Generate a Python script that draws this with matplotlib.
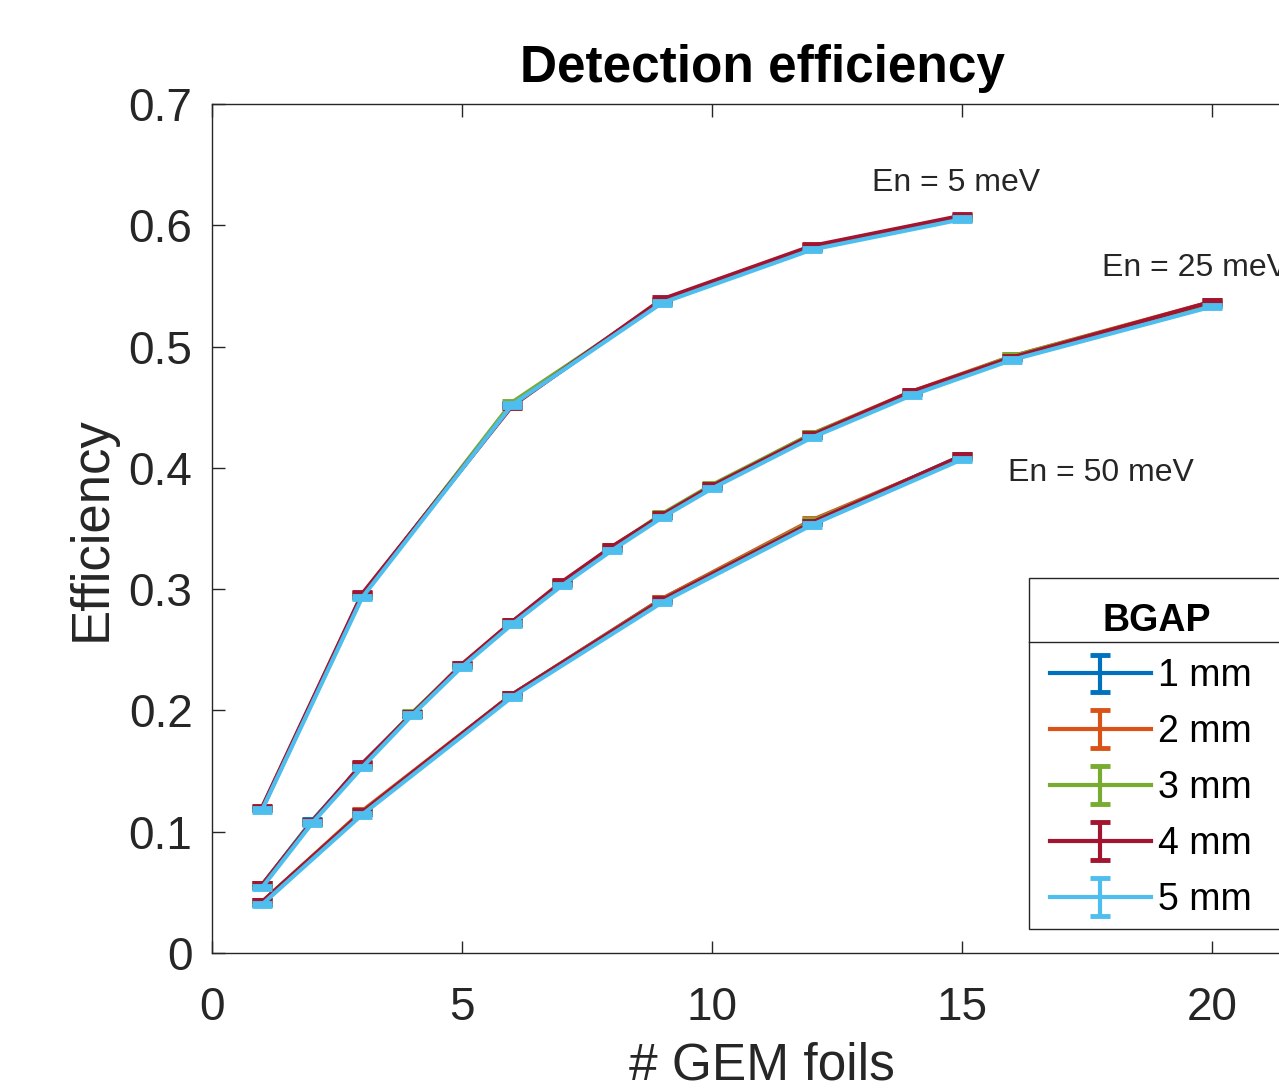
"""Detection efficiency vs number of GEM foils for several BGAP values."""

import matplotlib.pyplot as plt
from matplotlib.lines import Line2D
from matplotlib.patches import Rectangle

# ---- data ----
bgap_labels = ["1 mm", "2 mm", "3 mm", "4 mm", "5 mm"]
colors = ["#0072BD", "#D95319", "#77AC30", "#A2142F", "#4DBEEE"]

foils_5mev = [1, 3, 6, 9, 12, 15]
eff_5mev = [
    [0.119, 0.295, 0.452, 0.537, 0.582, 0.606],
    [0.119, 0.295, 0.452, 0.538, 0.582, 0.607],
    [0.119, 0.294, 0.454, 0.537, 0.581, 0.606],
    [0.120, 0.296, 0.451, 0.539, 0.583, 0.608],
    [0.118, 0.293, 0.452, 0.536, 0.580, 0.605],
]

foils_25mev = [1, 2, 3, 4, 5, 6, 7, 8, 9, 10, 12, 14, 16, 20]
eff_25mev = [
    [0.056, 0.109, 0.155, 0.197, 0.237, 0.272, 0.305, 0.334, 0.361, 0.385, 0.427, 0.462, 0.491, 0.535],
    [0.056, 0.108, 0.155, 0.197, 0.238, 0.273, 0.305, 0.335, 0.361, 0.385, 0.428, 0.463, 0.492, 0.537],
    [0.055, 0.108, 0.154, 0.198, 0.237, 0.272, 0.305, 0.334, 0.362, 0.386, 0.428, 0.462, 0.492, 0.536],
    [0.056, 0.108, 0.156, 0.197, 0.238, 0.273, 0.306, 0.335, 0.361, 0.385, 0.427, 0.463, 0.491, 0.537],
    [0.054, 0.107, 0.153, 0.196, 0.236, 0.271, 0.303, 0.332, 0.359, 0.383, 0.425, 0.460, 0.489, 0.533],
]

foils_50mev = [1, 3, 6, 9, 12, 15]
eff_50mev = [
    [0.042, 0.116, 0.213, 0.292, 0.355, 0.410],
    [0.042, 0.117, 0.213, 0.292, 0.357, 0.409],
    [0.041, 0.116, 0.212, 0.291, 0.356, 0.409],
    [0.042, 0.116, 0.213, 0.291, 0.355, 0.410],
    [0.040, 0.114, 0.211, 0.289, 0.353, 0.407],
]

eff_err = 0.0015

energy_labels = ["En = 5 meV", "En = 25 meV", "En = 50 meV"]
label_pos = [(13.2, 0.635), (17.8, 0.565), (15.92, 0.396)]

x_ticks = [0, 5, 10, 15, 20]
y_ticks = [0, 0.1, 0.2, 0.3, 0.4, 0.5, 0.6, 0.7]
y_tick_labels = ["0", "0.1", "0.2", "0.3", "0.4", "0.5", "0.6", "0.7"]

INK = "#262626"
plt.rcParams["font.family"] = ["Liberation Sans", "DejaVu Sans"]

fig = plt.figure(figsize=(12.79, 10.88), dpi=100)
ax = fig.add_axes([0.1658, 0.1241, 0.860, 0.7803])

handles = []
for i, (label, color) in enumerate(zip(bgap_labels, colors)):
    h = None
    for foils, eff in ((foils_5mev, eff_5mev), (foils_25mev, eff_25mev), (foils_50mev, eff_50mev)):
        h = ax.errorbar(
            foils, eff[i], yerr=eff_err,
            color=color, linewidth=3.0, elinewidth=3.0,
            capsize=7, capthick=3.5, zorder=2 + i,
        )
    handles.append(h)

for text, (x, y) in zip(energy_labels, label_pos):
    ax.text(x, y, text, fontsize=23, color=INK, va="center", ha="left", clip_on=False)

ax.set_xlim(0, 22)
ax.set_ylim(0, 0.7)
ax.set_xticks(x_ticks)
ax.set_yticks(y_ticks)
ax.set_yticklabels(y_tick_labels)
ax.tick_params(direction="in", length=9, width=1.0, labelsize=33, colors=INK,
               top=True, right=True)
ax.tick_params(axis="x", pad=24)
ax.tick_params(axis="y", pad=14)
for spine in ax.spines.values():
    spine.set_color(INK)
    spine.set_linewidth(1.0)

ax.set_title("Detection efficiency", fontsize=37, fontweight="bold", pad=16)
ax.set_xlabel("# GEM foils", fontsize=37, color=INK, labelpad=8)
ax.set_ylabel("Efficiency", fontsize=38, color=INK, labelpad=9)

# legend frame with a header row (MATLAB style), drawn by hand
box_x0, box_y0, box_x1, box_y1 = 0.743, 0.0283, 0.9775, 0.4417
sep_y = 0.3663
ax.add_patch(Rectangle((box_x0, box_y0), box_x1 - box_x0, box_y1 - box_y0,
                       transform=ax.transAxes, facecolor="white", edgecolor=INK,
                       linewidth=1.0, clip_on=False, zorder=9))
ax.add_line(Line2D([box_x0, box_x1], [sep_y, sep_y], transform=ax.transAxes,
                   color=INK, linewidth=1.0, clip_on=False, zorder=9.5))

leg = ax.legend(
    handles, bgap_labels, title="BGAP", loc="lower left", mode="expand",
    bbox_to_anchor=(0.7512, 0.028, 0.215, 0.414), fontsize=27,
    title_fontproperties={"size": 27, "weight": "bold"},
    frameon=False, handlelength=2.7, handletextpad=0.2,
    labelspacing=0.53, borderpad=0.3, borderaxespad=0,
)
leg.set_zorder(10)

fig.savefig("out.png", dpi=100)
